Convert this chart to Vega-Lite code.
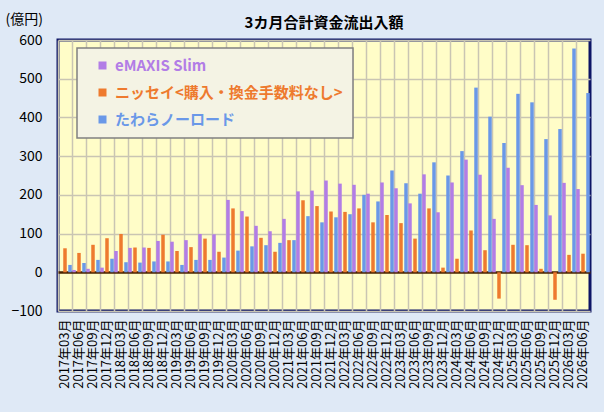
{
  "$schema": "https://vega.github.io/schema/vega-lite/v6.json",
  "width": 532,
  "height": 271,
  "autosize": {"type": "none"},
  "padding": {"left": 58, "top": 40, "right": 14, "bottom": 101},
  "background": "#dfe9f6",
  "title": {"text": "3カ月合計資金流出入額", "frame": "group", "fontSize": 15, "fontWeight": "bold", "anchor": "middle", "offset": -19, "color": "#000000", "font": "Noto Sans CJK JP"},
  "config": {
    "font": "Noto Sans CJK JP",
    "view": {"fill": "#fffdc8", "stroke": "#0d1466", "strokeWidth": 3}
  },
  "data": {"values": [
    {"q":"2017年03月","s":"eMAXIS Slim","v":0},{"q":"2017年03月","s":"ニッセイ<購入・換金手数料なし>","v":62},{"q":"2017年03月","s":"たわらノーロード","v":19},
    {"q":"2017年06月","s":"eMAXIS Slim","v":6},{"q":"2017年06月","s":"ニッセイ<購入・換金手数料なし>","v":50},{"q":"2017年06月","s":"たわらノーロード","v":24},
    {"q":"2017年09月","s":"eMAXIS Slim","v":9},{"q":"2017年09月","s":"ニッセイ<購入・換金手数料なし>","v":71},{"q":"2017年09月","s":"たわらノーロード","v":32},
    {"q":"2017年12月","s":"eMAXIS Slim","v":12},{"q":"2017年12月","s":"ニッセイ<購入・換金手数料なし>","v":88},{"q":"2017年12月","s":"たわらノーロード","v":35},
    {"q":"2018年03月","s":"eMAXIS Slim","v":55},{"q":"2018年03月","s":"ニッセイ<購入・換金手数料なし>","v":99},{"q":"2018年03月","s":"たわらノーロード","v":26},
    {"q":"2018年06月","s":"eMAXIS Slim","v":63},{"q":"2018年06月","s":"ニッセイ<購入・換金手数料なし>","v":64},{"q":"2018年06月","s":"たわらノーロード","v":25},
    {"q":"2018年09月","s":"eMAXIS Slim","v":64},{"q":"2018年09月","s":"ニッセイ<購入・換金手数料なし>","v":63},{"q":"2018年09月","s":"たわらノーロード","v":28},
    {"q":"2018年12月","s":"eMAXIS Slim","v":81},{"q":"2018年12月","s":"ニッセイ<購入・換金手数料なし>","v":97},{"q":"2018年12月","s":"たわらノーロード","v":28},
    {"q":"2019年03月","s":"eMAXIS Slim","v":79},{"q":"2019年03月","s":"ニッセイ<購入・換金手数料なし>","v":55},{"q":"2019年03月","s":"たわらノーロード","v":19},
    {"q":"2019年06月","s":"eMAXIS Slim","v":83},{"q":"2019年06月","s":"ニッセイ<購入・換金手数料なし>","v":65},{"q":"2019年06月","s":"たわらノーロード","v":32},
    {"q":"2019年09月","s":"eMAXIS Slim","v":99},{"q":"2019年09月","s":"ニッセイ<購入・換金手数料なし>","v":87},{"q":"2019年09月","s":"たわらノーロード","v":32},
    {"q":"2019年12月","s":"eMAXIS Slim","v":98},{"q":"2019年12月","s":"ニッセイ<購入・換金手数料なし>","v":53},{"q":"2019年12月","s":"たわらノーロード","v":38},
    {"q":"2020年03月","s":"eMAXIS Slim","v":187},{"q":"2020年03月","s":"ニッセイ<購入・換金手数料なし>","v":165},{"q":"2020年03月","s":"たわらノーロード","v":56},
    {"q":"2020年06月","s":"eMAXIS Slim","v":158},{"q":"2020年06月","s":"ニッセイ<購入・換金手数料なし>","v":144},{"q":"2020年06月","s":"たわらノーロード","v":67},
    {"q":"2020年09月","s":"eMAXIS Slim","v":120},{"q":"2020年09月","s":"ニッセイ<購入・換金手数料なし>","v":89},{"q":"2020年09月","s":"たわらノーロード","v":70},
    {"q":"2020年12月","s":"eMAXIS Slim","v":106},{"q":"2020年12月","s":"ニッセイ<購入・換金手数料なし>","v":53},{"q":"2020年12月","s":"たわらノーロード","v":76},
    {"q":"2021年03月","s":"eMAXIS Slim","v":138},{"q":"2021年03月","s":"ニッセイ<購入・換金手数料なし>","v":83},{"q":"2021年03月","s":"たわらノーロード","v":83},
    {"q":"2021年06月","s":"eMAXIS Slim","v":209},{"q":"2021年06月","s":"ニッセイ<購入・換金手数料なし>","v":186},{"q":"2021年06月","s":"たわらノーロード","v":145},
    {"q":"2021年09月","s":"eMAXIS Slim","v":211},{"q":"2021年09月","s":"ニッセイ<購入・換金手数料なし>","v":171},{"q":"2021年09月","s":"たわらノーロード","v":129},
    {"q":"2021年12月","s":"eMAXIS Slim","v":237},{"q":"2021年12月","s":"ニッセイ<購入・換金手数料なし>","v":157},{"q":"2021年12月","s":"たわらノーロード","v":142},
    {"q":"2022年03月","s":"eMAXIS Slim","v":229},{"q":"2022年03月","s":"ニッセイ<購入・換金手数料なし>","v":156},{"q":"2022年03月","s":"たわらノーロード","v":150},
    {"q":"2022年06月","s":"eMAXIS Slim","v":226},{"q":"2022年06月","s":"ニッセイ<購入・換金手数料なし>","v":165},{"q":"2022年06月","s":"たわらノーロード","v":200},
    {"q":"2022年09月","s":"eMAXIS Slim","v":203},{"q":"2022年09月","s":"ニッセイ<購入・換金手数料なし>","v":129},{"q":"2022年09月","s":"たわらノーロード","v":183},
    {"q":"2022年12月","s":"eMAXIS Slim","v":232},{"q":"2022年12月","s":"ニッセイ<購入・換金手数料なし>","v":148},{"q":"2022年12月","s":"たわらノーロード","v":263},
    {"q":"2023年03月","s":"eMAXIS Slim","v":217},{"q":"2023年03月","s":"ニッセイ<購入・換金手数料なし>","v":127},{"q":"2023年03月","s":"たわらノーロード","v":230},
    {"q":"2023年06月","s":"eMAXIS Slim","v":178},{"q":"2023年06月","s":"ニッセイ<購入・換金手数料なし>","v":87},{"q":"2023年06月","s":"たわらノーロード","v":203},
    {"q":"2023年09月","s":"eMAXIS Slim","v":253},{"q":"2023年09月","s":"ニッセイ<購入・換金手数料なし>","v":165},{"q":"2023年09月","s":"たわらノーロード","v":284},
    {"q":"2023年12月","s":"eMAXIS Slim","v":155},{"q":"2023年12月","s":"ニッセイ<購入・換金手数料なし>","v":12},{"q":"2023年12月","s":"たわらノーロード","v":250},
    {"q":"2024年03月","s":"eMAXIS Slim","v":232},{"q":"2024年03月","s":"ニッセイ<購入・換金手数料なし>","v":35},{"q":"2024年03月","s":"たわらノーロード","v":313},
    {"q":"2024年06月","s":"eMAXIS Slim","v":291},{"q":"2024年06月","s":"ニッセイ<購入・換金手数料なし>","v":108},{"q":"2024年06月","s":"たわらノーロード","v":477},
    {"q":"2024年09月","s":"eMAXIS Slim","v":252},{"q":"2024年09月","s":"ニッセイ<購入・換金手数料なし>","v":57},{"q":"2024年09月","s":"たわらノーロード","v":402},
    {"q":"2024年12月","s":"eMAXIS Slim","v":138},{"q":"2024年12月","s":"ニッセイ<購入・換金手数料なし>","v":-68},{"q":"2024年12月","s":"たわらノーロード","v":334},
    {"q":"2025年03月","s":"eMAXIS Slim","v":270},{"q":"2025年03月","s":"ニッセイ<購入・換金手数料なし>","v":71},{"q":"2025年03月","s":"たわらノーロード","v":461},
    {"q":"2025年06月","s":"eMAXIS Slim","v":225},{"q":"2025年06月","s":"ニッセイ<購入・換金手数料なし>","v":70},{"q":"2025年06月","s":"たわらノーロード","v":439},
    {"q":"2025年09月","s":"eMAXIS Slim","v":174},{"q":"2025年09月","s":"ニッセイ<購入・換金手数料なし>","v":9},{"q":"2025年09月","s":"たわらノーロード","v":344},
    {"q":"2025年12月","s":"eMAXIS Slim","v":147},{"q":"2025年12月","s":"ニッセイ<購入・換金手数料なし>","v":-71},{"q":"2025年12月","s":"たわらノーロード","v":370},
    {"q":"2026年03月","s":"eMAXIS Slim","v":231},{"q":"2026年03月","s":"ニッセイ<購入・換金手数料なし>","v":45},{"q":"2026年03月","s":"たわらノーロード","v":578},
    {"q":"2026年06月","s":"eMAXIS Slim","v":215},{"q":"2026年06月","s":"ニッセイ<購入・換金手数料なし>","v":48},{"q":"2026年06月","s":"たわらノーロード","v":463}
  ]},
  "mark": {"type": "bar"},
  "encoding": {
    "x": {
      "field": "q", "type": "nominal", "sort": null,
      "scale": {"paddingInner": 0, "paddingOuter": 0},
      "axis": {
        "title": null, "labelAngle": -90, "labelAlign": "right", "labelBaseline": "middle",
        "labelFontSize": 13, "labelColor": "#000000", "labelOverlap": false, "labelPadding": 8,
        "ticks": false, "domain": false, "grid": true, "bandPosition": 0,
        "gridColor": "#c9c5b3", "gridWidth": 1.5, "gridOpacity": 1
      }
    },
    "xOffset": {
      "field": "s", "type": "nominal",
      "sort": ["eMAXIS Slim", "ニッセイ<購入・換金手数料なし>", "たわらノーロード"],
      "scale": {"paddingInner": 0.3, "paddingOuter": 0.05}
    },
    "y": {
      "field": "v", "type": "quantitative",
      "scale": {"domain": [-100, 600], "nice": false, "zero": false},
      "axis": {
        "values": [-100, 0, 100, 200, 300, 400, 500, 600],
        "title": "(億円)", "titleAngle": 0, "titleAlign": "left", "titleBaseline": "alphabetic",
        "titleX": -53, "titleY": -17, "titleFontSize": 14, "titleFontWeight": "normal", "titleColor": "#000000",
        "labelFontSize": 14, "labelColor": "#000000", "labelPadding": 16, "labelOverlap": false,
        "labelFlush": false,
        "ticks": false, "domain": false, "grid": true,
        "gridColor": {"condition": {"test": "datum.value === 0", "value": "#4a2200"}, "value": "#c9c5b3"},
        "gridWidth": {"condition": {"test": "datum.value === 0", "value": 2.5}, "value": 1.5},
        "gridOpacity": 1
      }
    },
    "color": {
      "field": "s", "type": "nominal",
      "scale": {
        "domain": ["eMAXIS Slim", "ニッセイ<購入・換金手数料なし>", "たわらノーロード"],
        "range": ["#b27de6", "#ee7a2e", "#6a98e8"]
      },
      "legend": {
        "orient": "none", "legendX": 19, "legendY": 8, "title": null,
        "fillColor": "#f4f3e4", "strokeColor": "#808080",
        "padding": 10, "symbolType": "square", "symbolSize": 64, "symbolOffset": 8,
        "symbolStrokeWidth": 0, "labelFontSize": 15, "labelFontWeight": "bold",
        "rowPadding": 11, "labelLimit": 400, "labelOffset": 5,
        "encode": {
          "legend": {"update": {"strokeWidth": {"value": 1.5}}},
          "labels": {"update": {"fill": {"scale": "color", "field": "value"}}}
        }
      }
    }
  }
}
